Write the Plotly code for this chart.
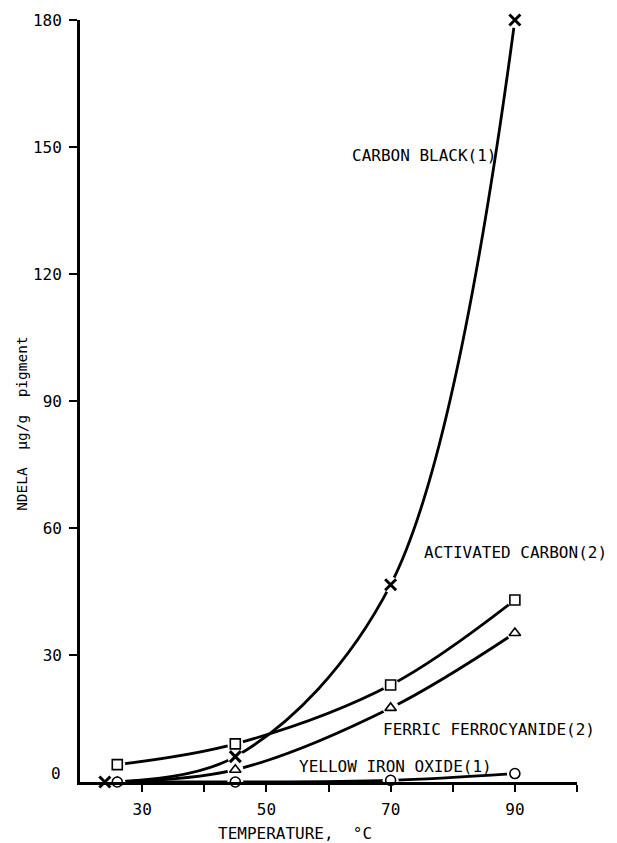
import plotly.graph_objects as go

# NDELA formation vs. temperature for several pigments
temp_carbon_black = [24, 45, 70, 90]
ndela_carbon_black = [0, 6.0, 46.6, 180]

temp_activated_carbon = [26, 45, 70, 90]
ndela_activated_carbon = [4.1, 9.0, 22.9, 43.0]

temp_ferric_ferrocyanide = [26, 45, 70, 90]
ndela_ferric_ferrocyanide = [0, 2.9, 17.5, 35.2]

temp_yellow_iron_oxide = [26, 45, 70, 90]
ndela_yellow_iron_oxide = [0, 0, 0.4, 2.0]

x_tick_vals = [30, 40, 50, 60, 70, 80, 90, 100]
x_tick_text = ["30", "", "50", "", "70", "", "90", ""]
y_tick_vals = [30, 60, 90, 120, 150, 180]
y_tick_text = ["30", "60", "90", "120", "150", "180"]

FONT = "DejaVu Sans Mono"
INK = "black"

series = [
    (temp_carbon_black, ndela_carbon_black, "x-thin-open", 11, "CARBON BLACK(1)"),
    (temp_activated_carbon, ndela_activated_carbon, "square", 10, "ACTIVATED CARBON(2)"),
    (temp_ferric_ferrocyanide, ndela_ferric_ferrocyanide, "triangle-up", 10, "FERRIC FERROCYANIDE(2)"),
    (temp_yellow_iron_oxide, ndela_yellow_iron_oxide, "circle", 10, "YELLOW IRON OXIDE(1)"),
]

fig = go.Figure()

# smooth curves
for xs, ys, _, _, name in series:
    fig.add_trace(go.Scatter(
        x=xs, y=ys, mode="lines", name=name,
        line=dict(color=INK, width=2.8, shape="spline", smoothing=1.0),
        cliponaxis=False, showlegend=False, hoverinfo="skip",
    ))

# white halos so the curves stop just short of each symbol
for xs, ys, sym, size, name in series:
    fig.add_trace(go.Scatter(
        x=xs, y=ys, mode="markers",
        marker=dict(symbol="circle", size=16, color="white", line=dict(width=0)),
        cliponaxis=False, showlegend=False, hoverinfo="skip",
    ))

# data symbols
for xs, ys, sym, size, name in series:
    if sym == "x-thin-open":
        marker = dict(symbol=sym, size=size, color=INK, line=dict(color=INK, width=3))
    else:
        marker = dict(symbol=sym, size=size, color="white", line=dict(color=INK, width=1.6))
    fig.add_trace(go.Scatter(
        x=xs, y=ys, mode="markers", name=name, marker=marker,
        cliponaxis=False, showlegend=False,
    ))

label_font = dict(family=FONT, size=16, color=INK)
curve_labels = [
    (63.5, 148.0, "CARBON BLACK(1)"),
    (75.1, 54.1, "ACTIVATED CARBON(2)"),
    (68.5, 12.3, "FERRIC FERROCYANIDE(2)"),
    (55.0, 3.6, "YELLOW IRON OXIDE(1)"),
]
annotations = [
    dict(x=x, y=y, xref="x", yref="y", text=t, showarrow=False,
         xanchor="left", yanchor="middle", font=label_font)
    for x, y, t in curve_labels
]

# zero label on the value axis
annotations.append(dict(
    x=0, y=0, xref="paper", yref="y", text="0", showarrow=False,
    xanchor="right", yanchor="middle", xshift=-17, yshift=9,
    font=dict(family=FONT, size=16, color=INK),
))
# axis titles
annotations.append(dict(
    x=54.6, y=0, xref="x", yref="paper", text="TEMPERATURE,  °C",
    showarrow=False, xanchor="center", yanchor="middle", yshift=-51,
    font=dict(family=FONT, size=16, color=INK),
))
annotations.append(dict(
    x=0, y=84.6, xref="paper", yref="y", text="NDELA  µg/g  pigment",
    showarrow=False, xanchor="center", yanchor="middle", xshift=-58,
    textangle=-90, font=dict(family=FONT, size=14.5, color=INK),
))

fig.update_layout(
    width=617, height=843,
    margin=dict(l=80, r=40, t=20, b=61),
    paper_bgcolor="white", plot_bgcolor="white",
    showlegend=False,
    font=dict(family=FONT, size=16, color=INK),
    annotations=annotations,
    xaxis=dict(
        range=[20, 100], showgrid=False, zeroline=False,
        showline=True, linecolor=INK, linewidth=2.8,
        tickmode="array", tickvals=x_tick_vals, ticktext=x_tick_text,
        ticks="outside", ticklen=7, tickwidth=2, tickcolor=INK,
        tickfont=dict(family=FONT, size=16, color=INK),
        ticklabelstandoff=4,
    ),
    yaxis=dict(
        range=[0, 180], showgrid=False, zeroline=False,
        showline=True, linecolor=INK, linewidth=2.8,
        tickmode="array", tickvals=y_tick_vals, ticktext=y_tick_text,
        ticks="outside", ticklen=8, tickwidth=2, tickcolor=INK,
        tickfont=dict(family=FONT, size=16, color=INK),
        ticklabelstandoff=4,
    ),
)

fig.write_html("out.html")
